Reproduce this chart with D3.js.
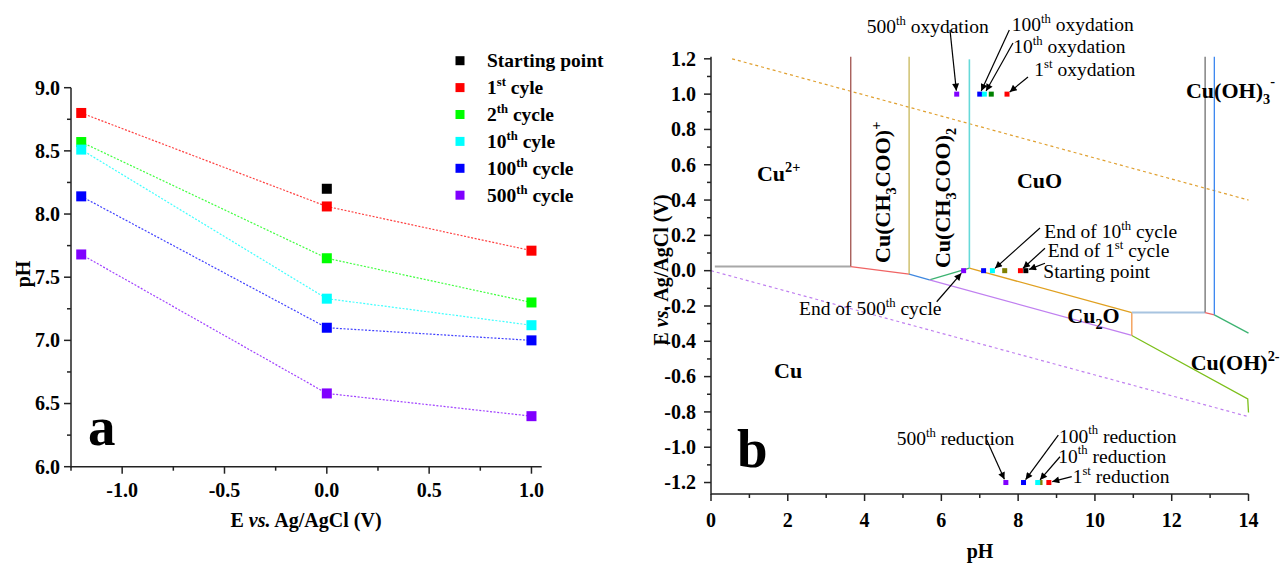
<!DOCTYPE html>
<html><head><meta charset="utf-8">
<script src="https://cdn.jsdelivr.net/npm/d3@7"></script>
<style>
body{margin:0;background:#fff}
svg{display:block}
text{font-family:"Liberation Serif","Times New Roman",serif;fill:#000}
</style>
</head><body>
<svg id="c" width="1283" height="570"></svg>
<script>
// ---------------- DATA ----------------
// Panel a: pH after cycling at each applied potential (V vs Ag/AgCl)
const potentials = [-1.2, 0.0, 1.0];
const startingPoint = {E: 0.0, pH: 8.20};
const cycle1   = [8.80, 8.06, 7.71];
const cycle2   = [8.57, 7.65, 7.30];
const cycle10  = [8.51, 7.33, 7.12];
const cycle100 = [8.14, 7.10, 7.00];
const cycle500 = [7.68, 6.58, 6.40];
const seriesKeys = ["c1", "c2", "c10", "c100", "c500"];
const seriesValues = [cycle1, cycle2, cycle10, cycle100, cycle500];
const legendLabels = [
  [["Starting point"]],
  [["1"], ["st", "sup"], [" cyle"]],
  [["2"], ["th", "sup"], [" cycle"]],
  [["10"], ["th", "sup"], [" cyle"]],
  [["100"], ["th", "sup"], [" cycle"]],
  [["500"], ["th", "sup"], [" cycle"]]
];
const ticksAx = [-1.0, -0.5, 0.0, 0.5, 1.0];
const minorAx = [-1.25, -0.75, -0.25, 0.25, 0.75];
const ticksAy = [6.0, 6.5, 7.0, 7.5, 8.0, 8.5, 9.0];
const minorAy = [6.25, 6.75, 7.25, 7.75, 8.25, 8.75];

// Panel b: Pourbaix diagram boundaries [pH, E]
const boundaryNames = ["grayL","brown","red1","olive","blue1","green1","cyan","purple","gold","peach","steel","gray2","red2","blue2","green2","ygreen"];
const boundaryPoints = [
  [[0.1, 0.023], [3.64, 0.023]],
  [[3.64, 0.023], [3.64, 1.212]],
  [[3.64, 0.023], [5.16, -0.020]],
  [[5.16, -0.020], [5.16, 1.212]],
  [[5.16, -0.020], [5.69, -0.052]],
  [[5.69, -0.052], [6.73, 0.014]],
  [[6.73, 0.014], [6.73, 1.197]],
  [[5.69, -0.052], [10.96, -0.367]],
  [[6.73, 0.014], [10.96, -0.237]],
  [[10.96, -0.237], [10.96, -0.367]],
  [[10.96, -0.237], [12.87, -0.237]],
  [[12.87, -0.237], [12.87, 1.212]],
  [[12.87, -0.237], [13.11, -0.250]],
  [[13.11, -0.250], [13.11, 1.212]],
  [[13.11, -0.250], [14.0, -0.354]],
  [[10.96, -0.367], [13.98, -0.727], [14.0, -0.803]]
];
const waterLineNames = ["O2", "H2"];
const waterLinePoints = [
  [[0.55, 1.2], [14.0, 0.40]],
  [[0.0, 0.0], [14.0, -0.827]]
];
const ticksBx = [0, 2, 4, 6, 8, 10, 12, 14];
const minorBx = [1, 3, 5, 7, 9, 11, 13];
const ticksBy = [-1.2, -1.0, -0.8, -0.6, -0.4, -0.2, 0.0, 0.2, 0.4, 0.6, 0.8, 1.0, 1.2];
const minorBy = [-1.1, -0.9, -0.7, -0.5, -0.3, -0.1, 0.1, 0.3, 0.5, 0.7, 0.9, 1.1];

// measured points placed on the diagram: [pH, E, colorKey]
const oxidationPts = [[6.40, 1.0, "p500"], [7.00, 1.0, "p100"], [7.12, 1.0, "p10"], [7.30, 1.0, "p2ox"], [7.71, 1.0, "p1"]];
const cyclePts = [[6.58, 0.0, "p500"], [7.10, 0.0, "p100"], [7.33, 0.0, "p10"], [7.65, 0.0, "p2"], [8.06, 0.0, "p1"], [8.20, 0.0, "start"]];
const reductionPts = [[7.68, -1.2, "p500"], [8.14, -1.2, "p100"], [8.57, -1.2, "p2"], [8.51, -1.2, "p10"], [8.80, -1.2, "p1"]];

// annotations: text, text anchor [pH,E], arrow start [pH,E], arrow target [pH,E]
const annotations = [
  {t: [["500"], ["th", "sup"], [" oxydation"]], at: [4.055, 1.346], from: [6.225, 1.363], to: [6.40, 1.0]},
  {t: [["100"], ["th", "sup"], [" oxydation"]], at: [7.832, 1.358], from: [7.770, 1.363], to: [7.00, 1.0]},
  {t: [["10"], ["th", "sup"], [" oxydation"]], at: [7.874, 1.231], from: [7.866, 1.290], to: [7.12, 1.0]},
  {t: [["1"], ["st", "sup"], [" oxydation"]], at: [8.421, 1.103], from: [8.257, 1.097], to: [7.71, 1.0]},
  {t: [["End of 10"], ["th", "sup"], [" cycle"]], at: [8.681, 0.1835], from: [8.569, 0.242], to: [7.33, 0.0]},
  {t: [["End of 1"], ["st", "sup"], [" cycle"]], at: [8.770, 0.079], from: [8.699, 0.127], to: [8.06, 0.0]},
  {t: [["Starting point"]], at: [8.655, -0.040], from: [8.699, 0.042], to: [8.20, 0.0]},
  {t: [["End of 500"], ["th", "sup"], [" cycle"]], at: [2.292, -0.251], from: [5.879, -0.176], to: [6.58, 0.0]},
  {t: [["500"], ["th", "sup"], [" reduction"]], at: [4.837, -0.987], from: [7.181, -0.959], to: [7.68, -1.2]},
  {t: [["100"], ["th", "sup"], [" reduction"]], at: [9.064, -0.974], from: [9.046, -0.931], to: [8.14, -1.2]},
  {t: [["10"], ["th", "sup"], [" reduction"]], at: [9.046, -1.0875], from: [9.090, -1.054], to: [8.51, -1.2]},
  {t: [["1"], ["st", "sup"], [" reduction"]], at: [9.421, -1.201], from: [9.395, -1.167], to: [8.80, -1.2]}
];
// species labels
const speciesLabels = [
  {t: [["Cu"], ["2+", "sup"]], at: [1.198, 0.508], rot: false},
  {t: [["CuO"]], at: [7.970, 0.468], rot: false},
  {t: [["Cu(OH)"], ["3", "sub"], ["-", "sup2"]], at: [12.372, 0.977], rot: false},
  {t: [["Cu"], ["2", "sub"], ["O"]], at: [9.280, -0.296], rot: false},
  {t: [["Cu(OH)"], ["2-", "sup"]], at: [12.494, -0.562], rot: false},
  {t: [["Cu"]], at: [1.641, -0.608], rot: false},
  {t: [["Cu(CH"], ["3", "sub"], ["COO)"], ["+", "sup"]], at: [4.662, 0.044], rot: true},
  {t: [["Cu(CH"], ["3", "sub"], ["COO)"], ["2", "sub"]], at: [6.225, 0.015], rot: true}
];

// ---------------- STYLES ----------------
const colA = {start: "#000000", c1: "#ff0000", c2: "#00ff00", c10: "#00ffff", c100: "#0000ff", c500: "#8000ff"};
const colB = {start: "#000000", p1: "#ff0000", p2: "#808000", p2ox: "#008000", p10: "#00ffff", p100: "#0000ff", p500: "#8000ff"};
const boundaryStyle = {
  grayL: ["#a8a8a8", 2], brown: ["#a0524d", 1.3], red1: ["#f06464", 1.3], olive: ["#c8b85a", 1.3],
  blue1: ["#3f88e0", 1.3], green1: ["#3cb371", 1.3], cyan: ["#66d9d9", 1.6], purple: ["#c080f0", 1.3],
  gold: ["#e0a020", 1.3], peach: ["#f4a460", 1.5], steel: ["#a8c4e0", 2.2], gray2: ["#707070", 1.3],
  red2: ["#f06464", 1.3], blue2: ["#3a86f0", 1.3], green2: ["#3cb371", 1.3], ygreen: ["#7cbf1a", 1.3]
};
const waterStyle = {O2: "#e0a030", H2: "#c080f0"};

const svg = d3.select("#c");
const FS = 20;     // tick / axis title font
const AFS = 19.5;  // annotation font

function rich(sel, parts, fs) {
  let shift = 0;
  parts.forEach(p => {
    const kind = p[1] || "n";
    let target = 0, size = fs;
    if (kind === "sup") { target = -0.42 * fs; size = 0.65 * fs; }
    else if (kind === "sup2") { target = -0.55 * fs; size = 0.65 * fs; }
    else if (kind === "sub") { target = 0.28 * fs; size = 0.65 * fs; }
    sel.append("tspan").attr("dy", target - shift).style("font-size", size + "px").text(p[0]);
    shift = target;
  });
  return sel;
}
const fmt = d => (Math.abs(d) < 1e-9 ? 0 : d).toFixed(1);

// ---------------- PANEL A ----------------
const xA = d3.scaleLinear().domain([-1.25, 1.05]).range([71, 541.7]);
const yA = d3.scaleLinear().domain([6, 9]).range([466.7, 87.7]);
const gA = svg.append("g");

function drawAxes(g, x, y, tx, mx, ty, my, fx, fy, xLabY, yLabX) {
  const [x0, x1] = x.range(), [y0, y1] = y.range();
  const ax = g.append("g").attr("stroke", "#222").attr("stroke-width", 1.5);
  ax.append("line").attr("x1", x0).attr("x2", x1).attr("y1", y0).attr("y2", y0);
  ax.append("line").attr("x1", x0).attr("x2", x0).attr("y1", y0 + 0.75).attr("y2", y1);
  tx.forEach(v => ax.append("line").attr("x1", x(v)).attr("x2", x(v)).attr("y1", y0).attr("y2", y0 + 7));
  mx.forEach(v => ax.append("line").attr("x1", x(v)).attr("x2", x(v)).attr("y1", y0).attr("y2", y0 + 4));
  ty.forEach(v => ax.append("line").attr("x1", x0).attr("x2", x0 - 7).attr("y1", y(v)).attr("y2", y(v)));
  my.forEach(v => ax.append("line").attr("x1", x0).attr("x2", x0 - 4).attr("y1", y(v)).attr("y2", y(v)));
  tx.forEach(v => g.append("text").attr("x", x(v)).attr("y", xLabY).attr("text-anchor", "middle")
    .style("font-size", FS + "px").style("font-weight", "bold").text(fx(v)));
  ty.forEach(v => g.append("text").attr("x", yLabX).attr("y", y(v) + 6.8).attr("text-anchor", "end")
    .style("font-size", FS + "px").style("font-weight", "bold").text(fy(v)));
}
drawAxes(gA, xA, yA, ticksAx, minorAx, ticksAy, minorAy, fmt, fmt, 497, 60);

// dotted connecting lines
const lineA = d3.line().x(d => xA(d[0])).y(d => yA(d[1]));
seriesValues.forEach((vals, i) => {
  gA.append("path").datum(potentials.map((p, j) => [p, vals[j]]))
    .attr("d", lineA).attr("fill", "none").attr("stroke", colA[seriesKeys[i]])
    .attr("stroke-width", 1.2).attr("stroke-dasharray", "2,1.6").attr("opacity", 0.75);
});
const MS = 10;
gA.append("rect").attr("x", xA(startingPoint.E) - MS / 2).attr("y", yA(startingPoint.pH) - MS / 2)
  .attr("width", MS).attr("height", MS).attr("fill", colA.start);
seriesValues.forEach((vals, i) => {
  potentials.forEach((p, j) => {
    gA.append("rect").attr("x", xA(p) - MS / 2).attr("y", yA(vals[j]) - MS / 2)
      .attr("width", MS).attr("height", MS).attr("fill", colA[seriesKeys[i]]);
  });
});
// legend
const legKeys = ["start"].concat(seriesKeys);
legendLabels.forEach((lab, i) => {
  const cy = 60.7 + i * 26.9;
  gA.append("rect").attr("x", 460 - 4.5).attr("y", cy - 4.5).attr("width", 9).attr("height", 9).attr("fill", colA[legKeys[i]]);
  const t = gA.append("text").attr("x", 487).attr("y", cy + 6.5).style("font-size", "19.5px").style("font-weight", "bold");
  rich(t, lab, 19.5);
});
// axis titles
const tA = gA.append("text").attr("x", 306).attr("y", 527).attr("text-anchor", "middle")
  .style("font-size", FS + "px").style("font-weight", "bold");
tA.append("tspan").text("E ");
tA.append("tspan").style("font-style", "italic").text("vs.");
tA.append("tspan").text(" Ag/AgCl (V)");
gA.append("text").attr("transform", "translate(30,274) rotate(-90)").attr("text-anchor", "middle")
  .style("font-size", FS + "px").style("font-weight", "bold").text("pH");
gA.append("text").attr("x", xA(-1.167)).attr("y", yA(6.172)).style("font-size", "55px").style("font-weight", "bold").text("a");

// ---------------- PANEL B ----------------
const xB = d3.scaleLinear().domain([0, 14]).range([711, 1248.5]);
const yB = d3.scaleLinear().domain([-1.265, 1.212]).range([494, 56.7]);
const gB = svg.append("g");
const lineB = d3.line().x(d => xB(d[0])).y(d => yB(d[1]));

waterLinePoints.forEach((pts, i) => {
  gB.append("path").attr("d", lineB(pts)).attr("fill", "none")
    .attr("stroke", waterStyle[waterLineNames[i]]).attr("stroke-width", 1.2).attr("stroke-dasharray", "3,3");
});
boundaryPoints.forEach((pts, i) => {
  const st = boundaryStyle[boundaryNames[i]];
  gB.append("path").attr("d", lineB(pts)).attr("fill", "none").attr("stroke", st[0]).attr("stroke-width", st[1]);
});
drawAxes(gB, xB, yB, ticksBx, minorBx, ticksBy, minorBy, d => String(d), fmt, 527, 696);

// species labels
speciesLabels.forEach(s => {
  const t = gB.append("text").style("font-size", "22px").style("font-weight", "bold");
  if (s.rot) t.attr("transform", `translate(${xB(s.at[0])},${yB(s.at[1])}) rotate(-90)`);
  else t.attr("x", xB(s.at[0])).attr("y", yB(s.at[1]));
  rich(t, s.t, 22);
});

// points
const PS = 5;
[oxidationPts, cyclePts, reductionPts].forEach(arr => arr.forEach(d => {
  gB.append("rect").attr("x", xB(d[0]) - PS / 2).attr("y", yB(d[1]) - PS / 2)
    .attr("width", PS).attr("height", PS).attr("fill", colB[d[2]]);
}));

// arrows + annotation text
svg.append("defs").append("marker").attr("id", "ah").attr("viewBox", "0 0 10 10")
  .attr("refX", 10).attr("refY", 5).attr("markerWidth", 9).attr("markerHeight", 7)
  .attr("markerUnits", "userSpaceOnUse").attr("orient", "auto")
  .append("path").attr("d", "M0,0 L10,5 L0,10 z").attr("fill", "#000");
annotations.forEach(a => {
  const x1 = xB(a.from[0]), y1 = yB(a.from[1]);
  const px = xB(a.to[0]), py = yB(a.to[1]);
  const dx = px - x1, dy = py - y1, L = Math.hypot(dx, dy);
  const stop = 3.5;
  gB.append("line").attr("x1", x1).attr("y1", y1)
    .attr("x2", px - dx / L * stop).attr("y2", py - dy / L * stop)
    .attr("stroke", "#000").attr("stroke-width", 1.2).attr("marker-end", "url(#ah)");
  const t = gB.append("text").attr("x", xB(a.at[0])).attr("y", yB(a.at[1])).style("font-size", AFS + "px");
  rich(t, a.t, AFS);
});

// axis titles
const tB = gB.append("text").attr("transform", "translate(668,270) rotate(-90)").attr("text-anchor", "middle")
  .style("font-size", FS + "px").style("font-weight", "bold");
tB.append("tspan").text("E ");
tB.append("tspan").style("font-style", "italic").text("vs.");
tB.append("tspan").text(" Ag/AgCl (V)");
gB.append("text").attr("x", 980).attr("y", 558).attr("text-anchor", "middle")
  .style("font-size", FS + "px").style("font-weight", "bold").text("pH");
gB.append("text").attr("x", xB(0.677)).attr("y", yB(-1.112)).style("font-size", "55px").style("font-weight", "bold").text("b");
</script>
</body></html>
